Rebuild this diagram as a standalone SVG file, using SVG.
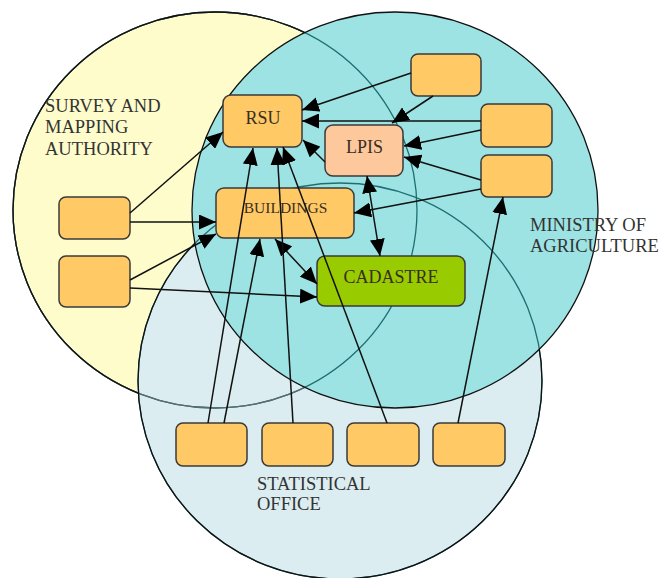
<svg xmlns="http://www.w3.org/2000/svg" width="661" height="578" viewBox="0 0 661 578">
  <style>
    .box { fill: #ffc966; stroke: #3a3a3a; stroke-width: 1.5; }
    .lpis { fill: #fdc89c; stroke: #3a3a3a; stroke-width: 1.5; }
    .cad { fill: #99cc00; stroke: #3a3a3a; stroke-width: 1.5; }
    .lbl { font-family: "Liberation Serif", "Times New Roman", serif; font-size: 18.5px; fill: #333333; }
    .name { font-family: "Liberation Serif", "Times New Roman", serif; fill: #3a2e1e; text-anchor: middle; }
    .link { stroke: #111111; stroke-width: 1.5; fill: none; marker-end: url(#arrow); }
    .both { marker-start: url(#arrow); }
    .edge { fill: none; stroke-width: 1.3; }
  </style>
  <defs>
    <marker id="arrow" viewBox="0 0 17 15" markerUnits="userSpaceOnUse" markerWidth="17" markerHeight="15" refX="17" refY="7.5" orient="auto-start-reverse">
      <path d="M0,0 L17,7.5 L0,15 z" fill="#000000"/>
    </marker>
    <!-- everything outside the ministry ellipse -->
    <clipPath id="outTeal">
      <path clip-rule="evenodd" d="M0,0 H661 V578 H0 z M192,210 a203,198 0 1,0 406,0 a203,198 0 1,0 -406,0 z"/>
    </clipPath>
    <!-- everything outside the statistical office ellipse -->
    <clipPath id="outStat">
      <path clip-rule="evenodd" d="M0,0 H661 V578 H0 z M138,381 a202,198 0 1,0 404,0 a202,198 0 1,0 -404,0 z"/>
    </clipPath>
  </defs>

  <rect width="661" height="578" fill="#ffffff"/>

  <!-- organisation areas -->
  <g id="areas">
    <ellipse id="survey-area" cx="215" cy="210" rx="202" ry="198" fill="#fffccc"/>
    <ellipse id="statistics-area" cx="340" cy="381" rx="202" ry="198" fill="#dcedf1"/>
    <ellipse id="ministry-area" cx="395" cy="210" rx="203" ry="198" fill="#9de3e3"/>

    <!-- outlines seen through the ministry area -->
    <ellipse class="edge" cx="215" cy="210" rx="202" ry="198" stroke="#1f6e71"/>
    <ellipse class="edge" cx="340" cy="381" rx="202" ry="198" stroke="#1f6e71"/>
    <g clip-path="url(#outTeal)">
      <ellipse class="edge" cx="215" cy="210" rx="202" ry="198" stroke="#5e6a70"/>
      <ellipse class="edge" cx="340" cy="381" rx="202" ry="198" stroke="#111111"/>
      <g clip-path="url(#outStat)">
        <ellipse class="edge" cx="215" cy="210" rx="202" ry="198" stroke="#111111"/>
      </g>
    </g>
    <ellipse class="edge" cx="395" cy="210" rx="203" ry="198" stroke="#111111"/>

    <text class="lbl" x="45" y="112">SURVEY AND</text>
    <text class="lbl" x="45" y="133">MAPPING</text>
    <text class="lbl" x="45" y="155">AUTHORITY</text>
    <text class="lbl" x="530" y="231">MINISTRY OF</text>
    <text class="lbl" x="530" y="252">AGRICULTURE</text>
    <text class="lbl" x="257" y="490">STATISTICAL</text>
    <text class="lbl" x="257" y="510">OFFICE</text>
  </g>

  <!-- registers and data sources -->
  <g id="rsu">
    <rect class="box" x="223" y="95" width="79" height="52" rx="8"/>
    <text class="name" x="263" y="124" font-size="18">RSU</text>
  </g>
  <g id="lpis">
    <rect class="lpis" x="325" y="125" width="78" height="51" rx="8"/>
    <text class="name" x="364.5" y="153" font-size="18">LPIS</text>
  </g>
  <g id="buildings">
    <rect class="box" x="216" y="188" width="138" height="50" rx="8"/>
    <text class="name" x="285.5" y="213" font-size="15.5">BUILDINGS</text>
  </g>
  <g id="cadastre">
    <rect class="cad" x="317" y="256" width="148" height="50" rx="8"/>
    <text class="name" x="391" y="283" font-size="18" fill="#1f3300">CADASTRE</text>
  </g>
  <g id="ministry-source-1"><rect class="box" x="411" y="54" width="70" height="42" rx="7"/></g>
  <g id="ministry-source-2"><rect class="box" x="481" y="104" width="71" height="43" rx="7"/></g>
  <g id="ministry-source-3"><rect class="box" x="481" y="155" width="71" height="42" rx="7"/></g>
  <g id="survey-source-1"><rect class="box" x="59" y="197" width="71" height="42" rx="7"/></g>
  <g id="survey-source-2"><rect class="box" x="59" y="256" width="71" height="51" rx="7"/></g>
  <g id="statistics-source-1"><rect class="box" x="176" y="423" width="71" height="43" rx="7"/></g>
  <g id="statistics-source-2"><rect class="box" x="262" y="423" width="71" height="43" rx="7"/></g>
  <g id="statistics-source-3"><rect class="box" x="347" y="423" width="72" height="43" rx="7"/></g>
  <g id="statistics-source-4"><rect class="box" x="433" y="423" width="72" height="43" rx="7"/></g>

  <!-- data flows -->
  <g id="connectors">
    <path class="link" d="M411,73 L302,110"/>
    <path class="link" d="M481,121 L302,121"/>
    <path class="link" d="M433,96 L392,123"/>
    <path class="link" d="M481,130 L404,146"/>
    <path class="link" d="M481,180 L404,157"/>
    <path class="link" d="M481,189 L354,213"/>
    <path class="link both" d="M367,176 L380,256"/>
    <path class="link" d="M325,162 L303,140"/>
    <path class="link" d="M130,213 L223,132"/>
    <path class="link" d="M130,222 L216,222"/>
    <path class="link" d="M130,280 L216,234"/>
    <path class="link" d="M130,288 L317,297"/>
    <path class="link both" d="M275,239 L317,284"/>
    <path class="link" d="M208,423 L253,148"/>
    <path class="link" d="M224,423 L260,239"/>
    <path class="link" d="M293,423 L277,148"/>
    <path class="link" d="M387,423 L283,147"/>
    <path class="link" d="M458,423 L503,197"/>
  </g>
</svg>
